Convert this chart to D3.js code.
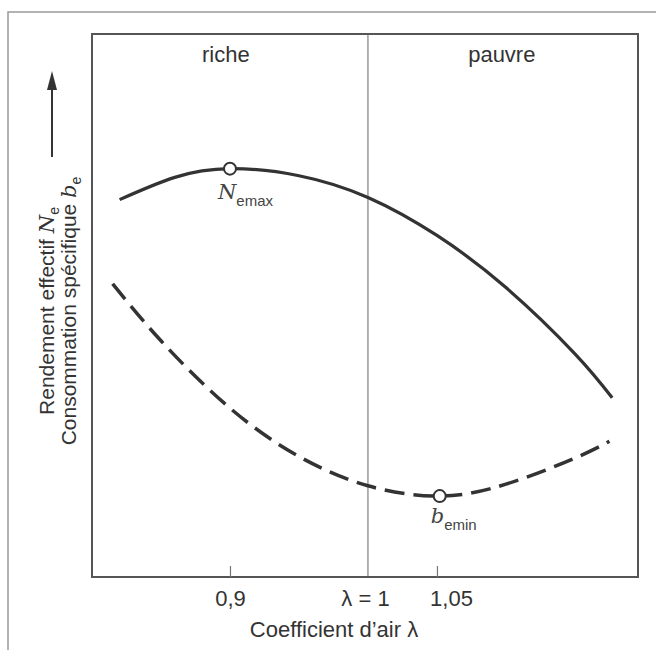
<!DOCTYPE html>
<html><head><meta charset="utf-8">
<script src="https://cdn.jsdelivr.net/npm/d3@7"></script>
<style>body{margin:0;background:#fff}</style>
</head><body><svg id="c" width="656" height="650"></svg>
<script>
// ---- data ----
const lambdaSolid = [0.82, 0.86, 0.90, 0.95, 1.00, 1.05, 1.10, 1.15, 1.177];
const rendement   = [69.5, 73.6, 75.2, 73.9, 69.9, 62.9, 53.3, 41.1, 33.0];
const lambdaDashed = [0.815, 0.85, 0.90, 0.95, 1.00, 1.052, 1.10, 1.15, 1.175];
const consommation = [54.0, 43.5, 31.1, 22.2, 16.8, 14.9, 17.1, 21.9, 25.0];
const tickValues = [0.9, 1.0, 1.05];
const tickLabels = ["0,9", "λ = 1", "1,05"];
const zoneNames = ["riche", "pauvre"];
const zoneCenters = [0.897, 1.097];
const markerLambda = [0.90, 1.052];
const markerValue = [75.2, 14.9];
const markerName = ["N", "b"];
const markerSub = ["emax", "emin"];

// ---- layout ----
const svg = d3.select("#c");
const L = 92, R = 638, T = 34, B = 577;
const x = d3.scaleLinear().domain([0.8, 1.1957]).range([L, R]);
const y = d3.scaleLinear().domain([0, 100]).range([B, T]);
const ink = "#333";
const font = "'Liberation Sans', Arial, sans-serif";
const serif = "'DejaVu Serif', 'Liberation Serif', serif";

// outer frame
svg.append("path").attr("d", `M8,660 L8,12 L670,12`).attr("fill", "none")
  .attr("stroke", "#999").attr("stroke-width", 1.5);

// plot box
svg.append("rect").attr("x", L).attr("y", T).attr("width", R - L).attr("height", B - T)
  .attr("fill", "none").attr("stroke", "#555").attr("stroke-width", 2);

// lambda = 1 line
svg.append("line").attr("x1", x(1)).attr("x2", x(1)).attr("y1", T).attr("y2", B)
  .attr("stroke", "#666").attr("stroke-width", 1);

// x axis ticks
const xAxis = d3.axisBottom(x).tickValues(tickValues).tickSize(0).tickFormat((d, i) => tickLabels[i]);
const gx = svg.append("g").attr("transform", `translate(0,${B})`).call(xAxis);
gx.select(".domain").remove();
gx.selectAll(".tick line").filter(d => d !== 1).attr("y2", -11).attr("stroke", "#777").attr("stroke-width", 1.2);
gx.selectAll(".tick text").attr("y", 29).attr("dy", 0).attr("font-family", font).attr("font-size", 22)
  .attr("fill", ink).attr("dx", d => d === 1.05 ? 14 : (d === 1 ? -3 : 0));

// x title
svg.append("text").attr("x", 334).attr("y", 637).attr("text-anchor", "middle")
  .attr("font-family", font).attr("font-size", 22).attr("fill", ink)
  .text("Coefficient d’air λ");

// zone labels
svg.selectAll(".zone").data(zoneNames).join("text").attr("class", "zone")
  .attr("x", (d, i) => x(zoneCenters[i])).attr("y", 62).attr("text-anchor", "middle")
  .attr("font-family", font).attr("font-size", 22).attr("fill", ink).text(d => d);

// curves
const line = d3.line().curve(d3.curveNatural);
svg.append("path").attr("d", line(lambdaSolid.map((l, i) => [x(l), y(rendement[i])])))
  .attr("fill", "none").attr("stroke", ink).attr("stroke-width", 3.2);
svg.append("path").attr("d", line(lambdaDashed.map((l, i) => [x(l), y(consommation[i])])))
  .attr("fill", "none").attr("stroke", ink).attr("stroke-width", 3.5)
  .attr("stroke-dasharray", "20,9");

// markers
svg.selectAll(".mk").data(markerLambda).join("circle").attr("class", "mk")
  .attr("cx", d => x(d)).attr("cy", (d, i) => y(markerValue[i])).attr("r", 6)
  .attr("fill", "#fff").attr("stroke", ink).attr("stroke-width", 2);

// marker labels
const lblOff = [[-12, 30], [-9, 27]];
markerLambda.forEach((l, i) => {
  const t = svg.append("text").attr("x", x(l) + lblOff[i][0]).attr("y", y(markerValue[i]) + lblOff[i][1])
    .attr("fill", "#444");
  t.append("tspan").attr("font-family", serif).attr("font-style", "italic").attr("font-size", 21).text(markerName[i]);
  t.append("tspan").attr("font-family", font).attr("font-size", 15).attr("dy", 7).text(markerSub[i]);
});

// y arrow
svg.append("line").attr("x1", 52).attr("x2", 52).attr("y1", 157).attr("y2", 86)
  .attr("stroke", ink).attr("stroke-width", 2);
svg.append("path").attr("d", "M52,71 L57,90 L47,90 Z").attr("fill", ink);

// y label
const yl = svg.append("g").attr("transform", "translate(54,311) rotate(-90)");
const t1 = yl.append("text").attr("text-anchor", "middle").attr("y", 0)
  .attr("font-family", font).attr("font-size", 21).attr("fill", ink);
t1.append("tspan").text("Rendement effectif ");
t1.append("tspan").attr("font-family", serif).attr("font-style", "italic").text("N");
t1.append("tspan").attr("font-size", 14).attr("dy", 5).text("e");
const t2 = yl.append("text").attr("text-anchor", "middle").attr("y", 22)
  .attr("font-family", font).attr("font-size", 21).attr("fill", ink);
t2.append("tspan").text("Consommation spécifique ");
t2.append("tspan").attr("font-family", serif).attr("font-style", "italic").text("b");
t2.append("tspan").attr("font-size", 14).attr("dy", 5).text("e");
</script>
</body></html>
